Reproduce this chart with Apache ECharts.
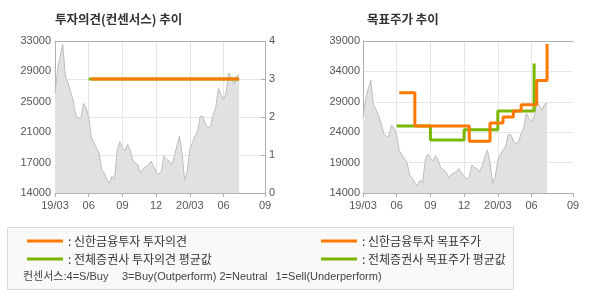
<!DOCTYPE html>
<html><head><meta charset="utf-8">
<script src="https://cdn.jsdelivr.net/npm/echarts@6/dist/echarts.min.js"></script>
<style>html,body{margin:0;padding:0;background:#fff}#c{width:590px;height:300px}</style>
</head><body><div id="c"></div>
<script>
// weekly categories (Mondays)
const weeks = [
'2019-03-04','2019-03-11','2019-03-18','2019-03-25','2019-04-01','2019-04-08','2019-04-15','2019-04-22','2019-04-29','2019-05-06','2019-05-13','2019-05-20','2019-05-27',
'2019-06-03','2019-06-10','2019-06-17','2019-06-24','2019-07-01','2019-07-08','2019-07-15','2019-07-22','2019-07-29','2019-08-05','2019-08-12','2019-08-19','2019-08-26',
'2019-09-02','2019-09-09','2019-09-16','2019-09-23','2019-09-30','2019-10-07','2019-10-14','2019-10-21','2019-10-28','2019-11-04','2019-11-11','2019-11-18','2019-11-25',
'2019-12-02','2019-12-09','2019-12-16','2019-12-23','2019-12-30','2020-01-06','2020-01-13','2020-01-20','2020-01-27','2020-02-03','2020-02-10','2020-02-17','2020-02-24',
'2020-03-02','2020-03-09','2020-03-16','2020-03-23','2020-03-30','2020-04-06','2020-04-13','2020-04-20','2020-04-27','2020-05-04','2020-05-11','2020-05-18','2020-05-25',
'2020-06-01','2020-06-08','2020-06-15','2020-06-22','2020-06-29','2020-07-06','2020-07-13','2020-07-20','2020-07-27','2020-08-03','2020-08-10','2020-08-17','2020-08-24','2020-08-31','2020-09-07','2020-09-14','2020-09-21'
];
// weekly share price (KRW)
const price = [
26500,29400,31100,32600,28600,27800,26700,25500,23800,23300,23400,25200,24600,
23500,21000,20300,19600,19000,16900,16500,15700,15200,16100,15700,19400,20400,
19700,19300,20100,19400,18100,17800,17500,16500,17000,17300,17500,18000,17300,
16700,16300,16700,18600,18200,18000,17500,18600,19900,21100,19000,15600,16700,
19400,20300,21100,21700,23600,23600,22600,22100,22400,23800,24700,27100,26300,
25700,26500,29000,28400,27600,28600,28800
];
const tickDates = ['2019-03-04','2019-06-03','2019-09-02','2019-12-02','2020-03-02','2020-06-01','2020-09-21'];
const tickLabels = ['19/03','06','09','12','20/03','06','09'];

// 투자의견 (consensus scale 1-4)
const opinionShinhanDates = ['2019-06-10','2020-07-13'];
const opinionShinhanValues = [3, 3];
const opinionAvgDates = ['2019-06-03','2020-07-13'];
const opinionAvgValues = [3, 3];

// 목표주가 change points
const targetShinhanDates = ['2019-06-10','2019-07-22','2019-12-16','2020-02-10','2020-03-16','2020-04-13','2020-05-04','2020-06-15','2020-07-13'];
const targetShinhanValues = [30500,25000,22500,25500,26500,27500,28500,32500,38500];
const targetAvgDates = ['2019-06-03','2019-09-02','2019-12-02','2020-03-02','2020-06-08'];
const targetAvgValues = [25000,22700,24400,27500,35300];

const consensusNotes = ['컨센서스:4=S/Buy', '3=Buy(Outperform)', '2=Neutral', '1=Sell(Underperform)'];

const ORANGE = '#FF7800', GREEN = '#7AB800';
const AXIS = '#b0b0b0', GRID = '#e6e6e6';
const NUMFONT = 'Liberation Sans', KFONT = 'Noto Sans CJK KR';
const MIXFONT = "'Liberation Sans', 'Noto Sans CJK KR'";

const pairs = (d, v) => d.map((x, i) => [x, v[i]]);
const isTick = (i, v) => tickDates.indexOf(v) >= 0;
const isInnerTick = (i, v) => tickDates.indexOf(v) > 0 && tickDates.indexOf(v) < tickDates.length - 1;

function xBottom(gi) {
  return {
    type: 'category', gridIndex: gi, data: weeks, boundaryGap: false, position: 'bottom',
    axisLine: { lineStyle: { color: AXIS, width: 1 } },
    axisTick: { show: true, interval: isTick, length: 4, lineStyle: { color: AXIS } },
    axisLabel: { interval: isTick, margin: 7, fontSize: 11, fontFamily: NUMFONT, color: '#555',
      formatter: v => tickLabels[tickDates.indexOf(v)] || '' },
    splitLine: { show: true, interval: isInnerTick, lineStyle: { color: GRID, width: 1 } }
  };
}
function xTop(gi) {
  return {
    type: 'category', gridIndex: gi, data: weeks, boundaryGap: false, position: 'top',
    axisLine: { lineStyle: { color: AXIS, width: 1 } },
    axisTick: { show: false }, axisLabel: { show: false }, splitLine: { show: false }
  };
}
const lineSeries = (name, xi, yi, data, color, step) => ({
  name, type: 'line', xAxisIndex: xi, yAxisIndex: yi, data, step: step || false,
  symbol: 'none', color, lineStyle: { color, width: 3 }, z: 5, silent: true
});
const priceSeries = (xi, yi) => ({
  type: 'line', xAxisIndex: xi, yAxisIndex: yi, data: price, symbol: 'none', silent: true,
  lineStyle: { color: '#bdbdbd', width: 1 }, areaStyle: { color: '#e1e1e1', opacity: 1 }, z: 2
});
const noteX = [23, 122, 219.5, 275.5];

const chart = echarts.init(document.getElementById('c'), null, { renderer: 'canvas' });
chart.setOption({
  animation: false,
  textStyle: { fontFamily: KFONT },
  title: [
    { text: '투자의견(컨센서스) 추이', left: 55, top: 13, padding: 0,
      textStyle: { fontSize: 12.5, fontWeight: 'bold', color: '#333', fontFamily: KFONT } },
    { text: '목표주가 추이', left: 367, top: 13, padding: 0,
      textStyle: { fontSize: 12.5, fontWeight: 'bold', color: '#333', fontFamily: KFONT } }
  ],
  grid: [
    { left: 55, top: 41, width: 210, height: 152 },
    { left: 363, top: 41, width: 210, height: 152 }
  ],
  xAxis: [xBottom(0), xTop(0), xBottom(1), xTop(1)],
  yAxis: [
    { type: 'value', gridIndex: 0, position: 'left', min: 14000, max: 33000, interval: 3800,
      axisLine: { show: true, lineStyle: { color: AXIS } }, axisTick: { show: false },
      splitLine: { show: false },
      axisLabel: { margin: 4, fontSize: 11, fontFamily: NUMFONT, color: '#555',
        formatter: v => String(Math.floor(v / 1000) * 1000) } },
    { type: 'value', gridIndex: 0, position: 'right', min: 0, max: 4, interval: 1,
      axisLine: { show: true, lineStyle: { color: AXIS } },
      axisTick: { show: true, inside: true, length: 4, lineStyle: { color: AXIS } },
      splitLine: { show: true, lineStyle: { color: GRID } },
      axisLabel: { margin: 4, fontSize: 11, fontFamily: NUMFONT, color: '#555' } },
    { type: 'value', gridIndex: 1, position: 'left', min: 14000, max: 39000, interval: 5000,
      axisLine: { show: true, lineStyle: { color: AXIS } }, axisTick: { show: false },
      splitLine: { show: true, lineStyle: { color: GRID } },
      axisLabel: { margin: 3, fontSize: 11, fontFamily: NUMFONT, color: '#555',
        formatter: v => String(v) } }
  ],
  legend: [
    { left: 22, top: 229, orient: 'vertical', icon: 'rect', itemWidth: 36, itemHeight: 3, itemGap: 4,
      selectedMode: false, formatter: ': {name}',
      textStyle: { fontSize: 12, lineHeight: 14, color: '#333', fontFamily: KFONT },
      data: ['신한금융투자 투자의견', '전체증권사 투자의견 평균값'] },
    { left: 316, top: 229, orient: 'vertical', icon: 'rect', itemWidth: 36, itemHeight: 3, itemGap: 4,
      selectedMode: false, formatter: ': {name}',
      textStyle: { fontSize: 12, lineHeight: 14, color: '#333', fontFamily: KFONT },
      data: ['신한금융투자 목표주가', '전체증권사 목표주가 평균값'] }
  ],
  graphic: [
    { type: 'rect', z: -10, silent: true, shape: { x: 7.5, y: 227.5, width: 506, height: 62 },
      style: { fill: '#f9f9f9', stroke: '#dadada', lineWidth: 1 } }
  ].concat(consensusNotes.map((t, i) => ({
    type: 'text', x: noteX[i], y: 277, silent: true,
    style: { text: t, fontSize: 11, fontFamily: MIXFONT, fill: '#444', verticalAlign: 'middle' }
  }))),
  series: [
    priceSeries(0, 0),
    lineSeries('전체증권사 투자의견 평균값', 0, 1, pairs(opinionAvgDates, opinionAvgValues), GREEN),
    lineSeries('신한금융투자 투자의견', 0, 1, pairs(opinionShinhanDates, opinionShinhanValues), ORANGE),
    priceSeries(2, 2),
    lineSeries('전체증권사 목표주가 평균값', 2, 2, pairs(targetAvgDates, targetAvgValues), GREEN, 'end'),
    lineSeries('신한금융투자 목표주가', 2, 2, pairs(targetShinhanDates, targetShinhanValues), ORANGE, 'end')
  ]
});
</script>
</body></html>
